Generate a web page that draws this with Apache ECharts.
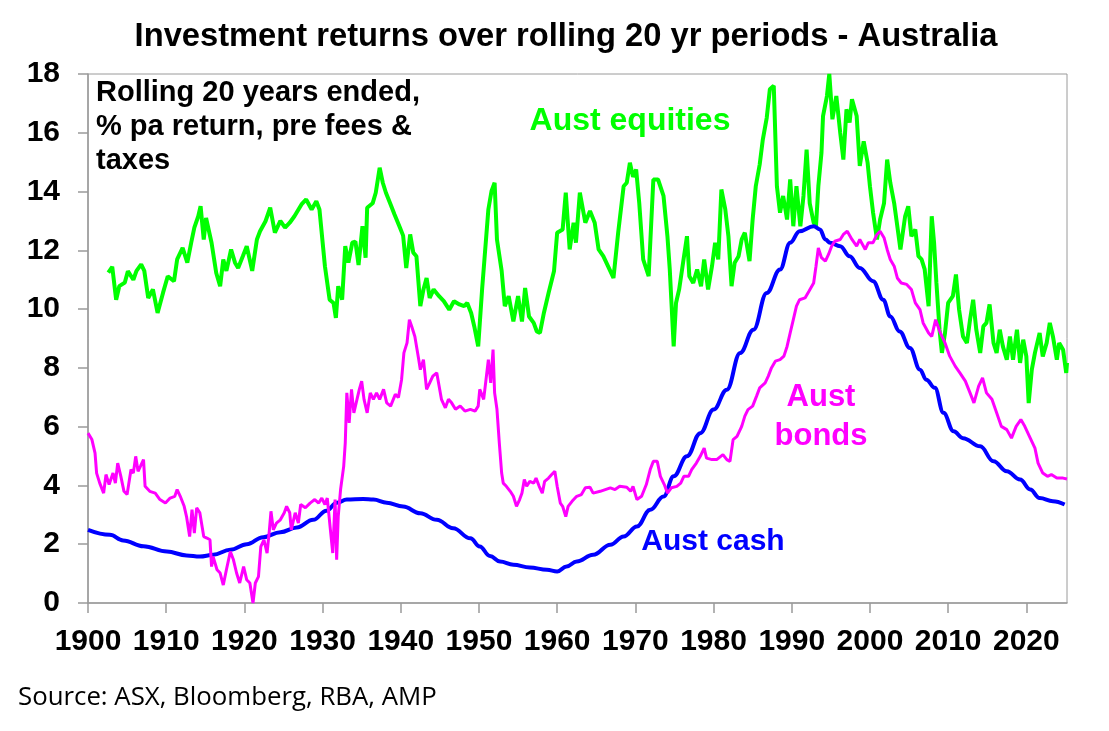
<!DOCTYPE html>
<html>
<head>
<meta charset="utf-8">
<title>Investment returns over rolling 20 yr periods - Australia</title>
<script src="https://cdn.jsdelivr.net/npm/echarts@6/dist/echarts.min.js"></script>
<style>
  html, body { margin: 0; padding: 0; background: #fff; }
  #chart { width: 1109px; height: 731px; }
</style>
</head>
<body>
<div id="chart"></div>
<script>
// rolling 20 yr returns, % pa, [year, value]
const equities = [
  [1902.6,11.24],[1903.1,11.44],[1903.6,10.32],[1904.0,10.78],[1904.7,10.9],[1905.1,11.29],[1905.8,11.0],[1906.2,11.3],[1906.8,11.52],[1907.2,11.3],
  [1907.7,10.38],[1908.3,10.67],[1908.9,9.87],[1909.6,10.56],[1910.2,11.12],[1911.0,10.95],[1911.4,11.69],[1912.1,12.08],[1912.7,11.58],[1913.2,12.26],
  [1913.6,12.77],[1914.1,13.16],[1914.4,13.5],[1914.8,12.37],[1915.1,13.1],[1915.8,12.26],[1916.4,11.23],[1916.9,10.78],[1917.3,11.69],[1917.7,11.3],
  [1918.3,12.03],[1918.8,11.58],[1919.2,11.4],[1919.8,11.8],[1920.3,12.14],[1921.0,11.3],[1921.6,12.37],[1922.0,12.65],[1922.7,12.99],[1923.3,13.45],
  [1923.9,12.6],[1924.6,13.0],[1925.2,12.77],[1925.8,12.94],[1926.4,13.16],[1927.3,13.56],[1927.9,13.73],[1928.6,13.39],[1929.2,13.67],[1929.6,13.39],
  [1930.3,11.46],[1930.9,10.32],[1931.4,10.21],[1931.7,9.7],[1932.0,10.78],[1932.5,10.32],[1932.9,12.14],[1933.3,11.58],[1933.8,12.26],[1934.2,12.3],
  [1934.6,11.5],[1935.1,12.82],[1935.5,11.75],[1935.7,13.45],[1936.4,13.6],[1936.8,13.96],[1937.3,14.81],[1937.7,14.3],[1938.1,13.96],[1938.7,13.56],
  [1939.2,13.22],[1939.9,12.77],[1940.3,12.5],[1940.7,11.4],[1941.2,12.54],[1941.6,11.92],[1942.0,11.8],[1942.5,10.1],[1942.9,10.67],[1943.3,11.06],
  [1943.7,10.38],[1944.2,10.67],[1944.9,10.44],[1945.5,10.27],[1946.2,9.98],[1946.8,10.27],[1947.5,10.16],[1948.1,10.1],[1948.5,10.21],[1949.0,9.87],
  [1949.4,9.41],[1949.9,8.73],[1950.4,10.67],[1950.7,11.69],[1951.2,13.39],[1951.6,14.01],[1952.0,14.3],[1952.3,12.37],[1952.9,11.3],[1953.3,10.1],
  [1953.8,10.44],[1954.4,9.58],[1955.0,10.44],[1955.5,9.58],[1955.9,10.72],[1956.4,9.75],[1957.0,9.53],[1957.4,9.24],[1957.8,9.19],[1958.3,9.87],
  [1958.9,10.55],[1959.6,11.3],[1960.0,12.6],[1960.7,12.71],[1961.1,13.96],[1961.6,12.03],[1962.1,12.94],[1962.4,12.26],[1962.9,13.96],[1963.6,12.94],
  [1964.2,13.34],[1964.8,12.94],[1965.3,12.03],[1965.9,11.8],[1966.5,11.46],[1967.2,11.06],[1967.8,12.6],[1968.5,14.18],[1968.9,14.3],[1969.3,14.98],
  [1969.7,14.5],[1970.1,14.75],[1970.5,13.6],[1971.0,11.69],[1971.7,11.12],[1972.3,14.41],[1972.9,14.41],[1973.6,13.85],[1974.1,12.48],[1974.4,11.35],
  [1974.9,8.73],[1975.2,10.21],[1975.6,10.67],[1976.1,11.58],[1976.6,12.48],[1976.9,11.12],[1977.4,10.89],[1977.9,11.35],[1978.4,10.78],[1978.8,11.69],
  [1979.3,10.67],[1979.8,11.46],[1980.2,12.26],[1980.6,11.69],[1981.0,14.07],[1981.5,13.39],[1981.9,12.48],[1982.3,10.78],[1982.7,11.58],[1983.2,11.8],
  [1983.6,12.37],[1984.0,12.6],[1984.6,11.63],[1985.0,13.05],[1985.4,14.18],[1985.9,14.92],[1986.3,15.77],[1986.8,16.51],[1987.2,17.48],[1987.7,17.6],
  [1988.1,14.18],[1988.5,13.28],[1988.9,13.85],[1989.4,13.05],[1989.8,14.41],[1990.2,12.82],[1990.6,14.18],[1991.1,12.82],[1991.5,13.85],[1991.9,15.43],
  [1992.3,13.6],[1992.8,12.94],[1993.1,12.82],[1993.4,14.18],[1993.8,15.32],[1994.0,16.57],[1994.5,17.25],[1994.8,18.0],[1995.2,16.46],[1995.7,17.25],
  [1996.2,16.0],[1996.6,15.09],[1997.0,16.8],[1997.4,16.35],[1997.7,17.14],[1998.3,16.57],[1998.7,14.87],[1999.2,15.71],[1999.7,14.98],[2000.0,14.18],
  [2000.4,13.28],[2000.9,12.37],[2001.3,13.05],[2001.8,13.6],[2002.2,15.09],[2002.6,14.3],[2003.1,13.6],[2003.5,12.82],[2003.9,12.03],[2004.5,13.16],
  [2004.9,13.5],[2005.3,12.48],[2005.8,12.71],[2006.2,11.8],[2006.6,11.69],[2007.0,11.35],[2007.5,10.1],[2007.9,13.16],[2008.2,12.26],[2008.5,10.89],
  [2008.9,9.3],[2009.2,8.51],[2009.6,9.19],[2010.0,10.21],[2010.6,10.44],[2011.0,11.18],[2011.4,9.98],[2011.9,9.07],[2012.4,8.85],[2012.8,9.64],
  [2013.2,10.32],[2013.6,9.3],[2014.1,8.51],[2014.5,9.41],[2014.9,9.53],[2015.3,10.16],[2015.8,8.85],[2016.2,8.51],[2016.6,9.3],[2017.0,8.73],
  [2017.5,8.28],[2017.9,9.07],[2018.3,8.28],[2018.8,9.3],[2019.2,8.17],[2019.6,8.96],[2020.0,8.39],[2020.3,6.8],[2020.7,7.94],[2021.1,8.51],
  [2021.7,9.19],[2022.1,8.39],[2022.6,8.85],[2023.0,9.53],[2023.4,9.07],[2023.9,8.28],[2024.2,8.85],[2024.7,8.62],[2025.1,7.83],[2025.2,8.17]
];

const bonds = [
  [1900.0,5.78],[1900.5,5.56],[1900.9,5.1],[1901.1,4.42],[1901.5,4.08],[1902.0,3.74],[1902.3,4.37],[1902.7,4.03],[1903.2,4.42],[1903.5,4.08],
  [1903.8,4.76],[1904.2,4.31],[1904.6,3.8],[1905.0,3.69],[1905.5,4.54],[1905.8,4.42],[1906.1,4.99],[1906.4,4.48],[1906.7,4.65],[1907.1,4.88],
  [1907.3,3.97],[1907.9,3.8],[1908.6,3.74],[1909.2,3.52],[1909.9,3.4],[1910.5,3.57],[1911.1,3.63],[1911.4,3.86],[1911.8,3.63],[1912.3,3.29],
  [1912.6,2.94],[1913.0,2.26],[1913.3,3.18],[1913.6,2.38],[1913.9,3.24],[1914.3,3.07],[1914.8,2.26],[1915.2,2.21],[1915.6,2.15],[1915.8,1.24],
  [1916.0,1.58],[1916.5,1.13],[1916.9,1.02],[1917.3,0.61],[1917.7,1.13],[1918.2,1.75],[1918.6,1.47],[1919.0,1.02],[1919.4,0.68],[1919.9,1.24],
  [1920.3,0.79],[1920.7,0.68],[1921.1,0.0],[1921.4,0.68],[1921.8,0.9],[1922.1,1.92],[1922.5,2.15],[1922.9,1.7],[1923.2,2.49],[1923.4,3.12],
  [1923.7,2.49],[1924.1,2.72],[1924.6,2.83],[1925.1,3.07],[1925.4,3.29],[1925.8,3.07],[1926.0,2.49],[1926.5,3.07],[1926.9,2.72],[1927.2,3.35],
  [1927.8,3.24],[1928.4,3.4],[1929.0,3.52],[1929.5,3.4],[1929.9,3.57],[1930.3,3.35],[1930.6,3.57],[1931.0,2.49],[1931.3,1.7],[1931.6,3.52],
  [1931.8,1.47],[1932.0,2.94],[1932.3,3.86],[1932.7,4.65],[1932.9,5.45],[1933.1,7.15],[1933.4,6.13],[1933.7,7.27],[1934.0,6.47],[1934.4,6.93],
  [1934.7,7.27],[1935.0,7.55],[1935.3,6.93],[1935.7,6.47],[1936.1,7.15],[1936.5,6.93],[1936.9,7.15],[1937.3,6.93],[1937.8,7.27],[1938.2,6.81],
  [1938.7,6.7],[1939.3,7.1],[1939.7,6.99],[1940.1,7.6],[1940.4,8.51],[1940.8,8.85],[1941.1,9.64],[1941.4,9.41],[1941.8,9.07],[1942.3,8.28],
  [1942.5,7.94],[1942.9,8.28],[1943.3,7.27],[1943.7,7.49],[1944.1,7.72],[1944.6,7.83],[1944.9,7.38],[1945.2,6.93],[1945.7,6.64],[1946.1,6.93],
  [1946.5,6.81],[1947.0,6.59],[1947.6,6.7],[1948.2,6.53],[1948.9,6.59],[1949.5,6.53],[1949.9,6.7],[1950.1,7.27],[1950.6,6.93],[1950.9,7.6],
  [1951.2,8.28],[1951.5,7.49],[1951.8,8.62],[1952.0,7.15],[1952.3,6.59],[1952.6,5.45],[1952.9,4.42],[1953.1,4.08],[1953.5,3.97],[1954.0,3.8],
  [1954.4,3.63],[1954.8,3.29],[1955.2,3.52],[1955.5,3.74],[1955.8,4.2],[1956.1,3.97],[1956.5,4.14],[1957.0,4.08],[1957.3,4.25],[1957.7,3.97],
  [1958.1,3.74],[1958.4,4.14],[1958.9,4.25],[1959.3,4.37],[1959.7,4.48],[1960.0,3.97],[1960.4,3.4],[1960.7,3.29],[1961.1,2.94],[1961.4,3.29],
  [1961.9,3.46],[1962.5,3.63],[1963.1,3.69],[1963.6,3.92],[1964.2,3.94],[1964.6,3.74],[1965.5,3.8],[1966.8,3.92],[1967.4,3.86],[1968.0,3.97],
  [1968.9,3.94],[1969.4,3.8],[1969.7,3.97],[1970.2,3.52],[1970.8,3.63],[1971.4,4.03],[1971.9,4.54],[1972.3,4.82],[1972.8,4.82],[1973.2,4.31],
  [1973.7,4.03],[1974.1,3.74],[1974.6,3.92],[1975.3,3.97],[1975.8,4.08],[1976.2,4.31],[1976.8,4.31],[1977.2,4.54],[1977.8,4.76],[1978.3,4.99],
  [1978.8,5.27],[1979.1,4.93],[1979.8,4.88],[1980.4,4.88],[1981.2,5.05],[1981.7,4.88],[1982.1,4.82],[1982.5,5.56],[1983.0,5.67],[1983.6,6.01],
  [1984.0,6.36],[1984.4,6.58],[1985.0,6.7],[1985.5,7.04],[1985.9,7.32],[1986.6,7.49],[1987.0,7.72],[1987.4,8.0],[1987.9,8.23],[1988.5,8.28],
  [1989.0,8.4],[1989.4,8.73],[1989.8,9.19],[1990.2,9.64],[1990.6,10.1],[1991.0,10.32],[1991.7,10.38],[1992.2,10.61],[1992.8,10.89],[1993.1,11.46],
  [1993.4,12.08],[1993.8,11.75],[1994.3,11.63],[1994.7,11.86],[1995.1,12.14],[1995.5,12.31],[1996.2,12.37],[1996.6,12.54],[1997.1,12.65],[1997.7,12.37],
  [1998.3,12.14],[1998.7,12.37],[1999.4,12.03],[1999.8,12.26],[2000.4,12.26],[2000.9,12.54],[2001.3,12.65],[2001.8,12.43],[2002.2,12.03],[2002.6,11.69],
  [2003.1,11.46],[2003.5,11.06],[2004.0,10.89],[2004.7,10.84],[2005.3,10.67],[2005.8,10.21],[2006.4,9.98],[2006.8,9.53],[2007.5,9.19],[2007.9,9.07],
  [2008.4,9.64],[2009.0,9.19],[2009.6,8.85],[2010.2,8.4],[2010.9,8.06],[2011.5,7.83],[2012.2,7.55],[2012.8,7.15],[2013.3,6.81],[2013.9,7.38],
  [2014.4,7.66],[2014.9,7.15],[2015.6,6.93],[2016.2,6.47],[2016.8,6.01],[2017.5,5.9],[2018.1,5.61],[2018.7,6.01],[2019.3,6.24],[2019.8,6.01],
  [2020.5,5.61],[2021.1,5.27],[2021.5,4.76],[2022.1,4.42],[2022.7,4.31],[2023.2,4.37],[2023.9,4.25],[2024.7,4.25],[2025.2,4.22]
];

const cash = [
  [1900.0,2.49],[1902.8,2.32],[1904.5,2.13],[1907.1,1.93],[1910.1,1.75],[1912.6,1.62],[1914.3,1.58],[1916.0,1.64],[1918.2,1.81],[1920.3,2.0],
  [1922.4,2.24],[1924.6,2.41],[1926.7,2.57],[1928.8,2.83],[1930.5,3.14],[1931.8,3.41],[1933.1,3.52],[1935.2,3.54],[1936.5,3.52],[1938.2,3.41],
  [1940.3,3.28],[1942.5,3.05],[1944.6,2.83],[1946.7,2.54],[1948.9,2.2],[1950.1,1.92],[1951.4,1.6],[1952.7,1.41],[1954.4,1.3],[1956.5,1.21],
  [1958.7,1.13],[1960.0,1.07],[1961.2,1.24],[1962.5,1.41],[1964.6,1.64],[1966.8,1.98],[1968.5,2.26],[1970.2,2.6],[1971.9,3.17],[1973.6,3.62],
  [1974.9,4.31],[1976.6,4.99],[1978.3,5.78],[1980.0,6.58],[1981.7,7.26],[1983.4,8.51],[1985.1,9.3],[1986.8,10.55],[1988.5,11.35],[1989.8,12.26],
  [1991.0,12.65],[1992.8,12.82],[1993.6,12.71],[1994.3,12.37],[1994.9,12.26],[1996.2,12.14],[1997.4,11.8],[1998.7,11.4],[2000.4,10.95],[2001.7,10.32],
  [2002.6,9.75],[2003.8,9.24],[2005.1,8.68],[2006.4,7.94],[2007.2,7.6],[2008.3,7.32],[2009.4,6.47],[2010.7,5.84],[2011.9,5.61],[2014.1,5.33],
  [2015.8,4.82],[2017.5,4.48],[2019.2,4.2],[2020.5,3.86],[2021.7,3.57],[2023.4,3.46],[2024.9,3.35]
];

const yearTicks = [1900, 1910, 1920, 1930, 1940, 1950, 1960, 1970, 1980, 1990, 2000, 2010, 2020];
const noteLines = ['Rolling 20 years ended,', '% pa return, pre fees &', 'taxes'];

const BOLD = '"Liberation Sans", Arial, sans-serif';
const AXIS_GREY = '#9a9a9a';

const chart = echarts.init(document.getElementById('chart'));

const graphics = [
    {
        type: 'text', x: 566, y: 37,
        style: { text: 'Investment returns over rolling 20 yr periods - Australia', font: 'bold 32.7px ' + BOLD, fill: '#000', align: 'center', verticalAlign: 'middle' }
    },
    {
        type: 'text', x: 630, y: 121,
        style: { text: 'Aust equities', font: 'bold 32px ' + BOLD, fill: '#00ff00', align: 'center', verticalAlign: 'middle' }
    },
    {
        type: 'text', x: 821, y: 397,
        style: { text: 'Aust', font: 'bold 31px ' + BOLD, fill: '#ff00ff', align: 'center', verticalAlign: 'middle' }
    },
    {
        type: 'text', x: 821, y: 436,
        style: { text: 'bonds', font: 'bold 31px ' + BOLD, fill: '#ff00ff', align: 'center', verticalAlign: 'middle' }
    },
    {
        type: 'text', x: 713, y: 542,
        style: { text: 'Aust cash', font: 'bold 30px ' + BOLD, fill: '#0000ff', align: 'center', verticalAlign: 'middle' }
    },
    {
        type: 'text', x: 18, y: 698,
        style: { text: 'Source: ASX, Bloomberg, RBA, AMP', font: '25.8px "Open Sans", sans-serif', fill: '#000', align: 'left', verticalAlign: 'middle' }
    }
];
noteLines.forEach((line, i) => {
    graphics.push({
        type: 'text', x: 96, y: 93 + i * 34,
        style: { text: line, font: 'bold 29px ' + BOLD, fill: '#000', align: 'left', verticalAlign: 'middle' }
    });
});

chart.setOption({
    animation: false,
    backgroundColor: '#fff',
    grid: { left: 88, right: 42, top: 74, bottom: 128, show: true, borderColor: AXIS_GREY, borderWidth: 1 },
    xAxis: {
        type: 'value',
        min: 1900,
        max: 2025.2,
        interval: 10,
        axisLine: { show: true, lineStyle: { color: AXIS_GREY, width: 1.5 } },
        axisTick: { show: true, inside: false, length: 10, customValues: yearTicks, lineStyle: { color: AXIS_GREY, width: 1.5 } },
        axisLabel: { customValues: yearTicks, margin: 24, color: '#000', fontFamily: BOLD, fontWeight: 'bold', fontSize: 30, formatter: v => String(v) },
        splitLine: { show: false }
    },
    yAxis: {
        type: 'value',
        min: 0,
        max: 18,
        interval: 2,
        axisLine: { show: true, lineStyle: { color: AXIS_GREY, width: 1.5 } },
        axisTick: { show: true, inside: false, length: 10, lineStyle: { color: AXIS_GREY, width: 1.5 } },
        axisLabel: { margin: 28, color: '#000', fontFamily: BOLD, fontWeight: 'bold', fontSize: 30 },
        splitLine: { show: false }
    },
    series: [
        { name: 'Aust equities', type: 'line', data: equities, symbol: 'none', lineStyle: { color: '#00ff00', width: 4 }, z: 2 },
        { name: 'Aust cash', type: 'line', data: cash, symbol: 'none', smooth: 0.4, smoothMonotone: 'x', lineStyle: { color: '#0000ff', width: 4 }, z: 3 },
        { name: 'Aust bonds', type: 'line', data: bonds, symbol: 'none', lineStyle: { color: '#ff00ff', width: 3 }, z: 4 }
    ],
    graphic: graphics
});

window.addEventListener('resize', () => chart.resize());
</script>
</body>
</html>
